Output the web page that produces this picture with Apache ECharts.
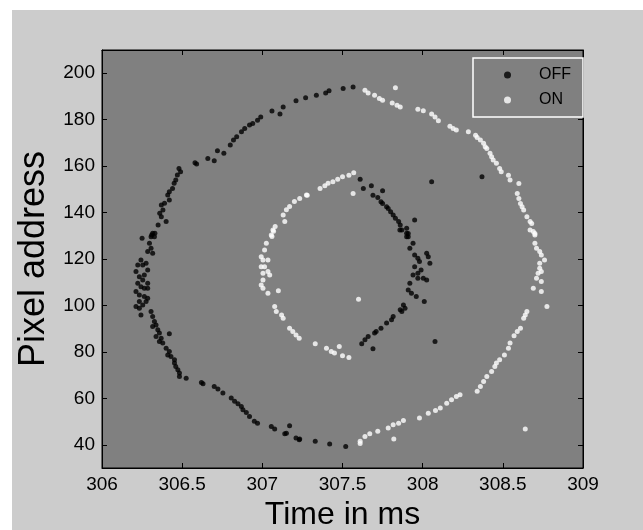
<!DOCTYPE html>
<html>
<head>
<meta charset="utf-8">
<script src="https://cdn.jsdelivr.net/npm/echarts@6/dist/echarts.min.js"></script>
<style>
  html, body { margin: 0; padding: 0; background: #ffffff; }
  #chart { position: absolute; left: 12px; top: 10px; width: 631px; height: 520px; background: #cccccc; }
</style>
</head>
<body>
<div id="chart"></div>
<script>
// Event data from the retina sensor: [time in ms, pixel address]
const offOuter = [
  [307.566,194.1],[307.504,193.4],[307.416,192.4],[307.395,191.5],[307.337,190.5],[307.27,189.4],
  [307.21,188.1],[307.13,185.5],[307.11,182.4],[307.06,183.7],[306.99,181.2],[306.97,179.8],
  [306.94,178.4],[306.92,177.7],[306.89,176.2],[306.87,174.8],[306.84,172.6],[306.82,171.2],
  [306.80,169.1],[306.76,165.5],[306.72,166.6],[306.70,162.3],[306.66,163.3],[306.59,160.9],
  [306.58,161.4],[306.48,159.0],[306.49,157.6],[306.47,156.2],[306.46,154.0],[306.45,152.6],
  [306.44,150.4],[306.42,149.0],[306.41,147.6],[306.42,145.4],[306.39,144.0],[306.37,143.2],
  [306.38,141.1],[306.36,139.7],[306.37,138.2],[306.40,136.1],[306.35,134.6],[306.33,131.1],
  [306.31,130.3],[306.25,128.9],
  [306.316,131.1],[306.306,129.6],[306.327,129.6],[306.296,126.8],[306.306,124.6],[306.285,123.2],
  [306.316,122.5],[306.243,119.6],[306.223,117.4],[306.254,117.4],[306.275,118.2],[306.285,115.3],
  [306.212,114.6],[306.233,112.4],[306.264,113.1],[306.254,111.0],[306.285,109.6],[306.223,109.6],
  [306.243,108.1],[306.264,107.4],[306.285,107.4],[306.212,106.0],[306.233,104.5],[306.264,103.8],
  [306.285,103.1],[306.233,101.7],[306.275,101.7],[306.212,99.5],[306.233,98.8],[306.254,100.2],
  [306.243,95.9],[306.306,97.4],[306.316,95.2],[306.327,93.1],[306.316,90.9],[306.337,91.6],
  [306.348,89.5],[306.358,88.1],[306.337,86.6],[306.369,85.9],[306.42,87.8],[306.379,83.8],
  [306.358,84.5],[306.40,81.6],[306.42,80.2],[306.41,78.7],[306.43,78.0],[306.452,76.6],
  [306.452,75.2],[306.46,73.7],[306.473,72.3],[306.483,70.9],[306.483,69.4],[306.525,68.7],
  [306.62,66.8],[306.63,66.3],[306.70,65.1],[306.723,64.0],[306.754,62.3],[306.806,60.1],
  [306.827,58.7],[306.848,57.7],[306.869,56.5],[306.879,55.1],[306.90,53.9],[306.92,52.2],
  [306.95,50.1],[306.97,49.3],[307.056,47.9],[307.077,46.8],[307.17,48.2],[307.15,45.0],
  [307.14,44.8],[307.21,42.9],[307.23,42.2],
  [307.233,42.5],[307.33,41.5],[307.42,40.3],[307.52,39.3]
];
const offInner = [
  [307.61,154.3],[307.63,150.4],[307.68,151.5],[307.69,147.5],[307.72,146.5],[307.75,149.4],
  [307.74,144.7],[307.75,143.9],[307.775,142.5],[307.785,141.8],[307.80,140.4],[307.816,138.9],
  [307.83,137.5],[307.85,136.1],[307.86,134.6],[307.87,132.5],[307.90,133.2],[307.91,131.0],
  [307.90,129.6],[307.95,136.8],
  [307.858,132.5],[307.90,131.1],[307.91,129.6],[307.94,126.8],[307.92,124.6],[307.95,121.7],
  [307.97,120.3],[308.025,122.5],[308.035,121.0],[308.045,118.2],[307.98,118.9],[307.95,116.7],
  [307.99,115.3],[307.97,113.9],[307.94,113.1],[308.004,111.7],[308.025,111.0],[307.97,111.7],
  [307.92,109.6],[307.91,106.7],[307.93,105.3],[307.96,103.8],[308.01,101.7],[307.88,100.2],
  [307.89,98.8],[307.87,97.4],[307.86,98.1],[307.816,95.2],[307.806,93.8],[307.775,92.4],
  [307.74,90.2],[307.71,88.8],[307.70,88.1],[307.66,86.6],[307.64,85.2],[307.62,83.5],
  [307.69,81.3]
];
const offStray = [[308.056,153.3],[308.37,155.4],[308.077,84.5]];

const onOuter = [
  [307.64,192.7],[307.66,191.5],[307.70,190.5],[307.73,189.1],[307.75,188.4],[307.81,187.2],
  [307.84,186.2],[307.86,185.5],[307.97,184.5],[308.004,183.8],[308.056,182.4],[308.077,181.2],
  [308.098,179.5],[308.17,177.2],[308.19,176.2],[308.21,175.5],[308.285,174.8],[308.33,173.3],
  [308.34,172.3],[308.36,171.2],[308.38,169.8],[308.39,168.3],[308.40,167.6],[308.42,165.5],
  [308.43,164.0],[308.44,162.6],[308.46,161.2],[308.48,159.0],[308.49,157.6],[308.535,156.1],
  [308.545,154.0],[308.60,152.5],[308.59,148.2],[308.60,146.1],[308.61,143.9],[308.62,142.5],
  [308.63,141.1],[308.65,138.2],[308.67,136.1],[308.68,135.3],[308.67,132.5],[308.70,131.0],
  [308.69,131.8],[308.70,130.3],[308.70,126.8],[308.71,124.6],[308.73,123.2],[308.74,121.7],
  [308.76,119.6],[308.73,118.2],[308.73,116.0],[308.74,114.6],[308.72,113.9],[308.71,111.7],
  [308.74,110.3],[308.69,107.4],[308.74,106.0],[308.775,99.5],[308.65,97.4],[308.64,95.9],
  [308.63,94.5],[308.61,90.2],[308.59,88.8],[308.57,86.9],[308.545,83.8],[308.535,81.6],
  [308.51,78.7],[308.48,76.6],[308.46,75.2],[308.45,73.7],[308.43,71.6],[308.40,69.4],
  [308.38,67.3],[308.36,65.1],[308.34,63.0],[308.233,61.5],[308.21,60.8],[308.18,59.4],
  [308.15,57.9],[308.11,55.8],[308.08,54.8],[308.035,53.6],[307.98,51.5],[307.88,50.5],
  [307.85,49.3],[307.816,48.6],[307.785,47.2],[307.72,45.8],[307.67,44.8],[307.64,43.6],
  [307.61,41.5],[307.61,40.5]
];
const onInner = [
  [307.233,146.1],[307.28,147.5],[307.36,150.4],[307.39,151.5],[307.41,152.6],[307.44,153.3],
  [307.47,154.3],[307.50,155.4],[307.54,156.1],[307.57,157.1],
  [307.275,147.6],[307.20,144.8],[307.17,142.6],[307.15,141.2],[307.13,139.0],[307.14,136.2],
  [307.08,134.0],[307.07,131.9],[307.06,129.7],
  [307.066,132.5],[307.056,130.3],[307.025,126.8],[307.014,123.9],[306.993,121.0],[307.004,119.6],
  [307.035,119.6],[307.014,116.7],[306.993,116.7],[307.035,114.6],[307.004,113.9],[307.046,113.1],
  [307.004,111.0],[306.993,108.8],[307.004,107.4],[307.035,105.3],[307.10,106.3],[307.077,99.5],
  [307.087,97.4],[307.12,95.9],[307.13,94.5],[307.17,90.2],[307.19,88.8],[307.21,87.3],
  [307.23,85.9],[307.33,83.5],[307.40,81.6],[307.43,80.2],[307.45,79.5],[307.48,82.3],
  [307.50,78.3],[307.54,77.6]
];
const onStray = [[307.83,193.7],[307.566,148.2],[307.60,102.7],[307.82,42.5],[308.64,46.8]];

const yTicks = [40, 60, 80, 100, 120, 140, 160, 180, 200];
const seriesNames = ['OFF', 'ON'];

const FONT = '"Liberation Sans", Arial, Helvetica, sans-serif';

const chart = echarts.init(document.getElementById('chart'), null, { renderer: 'canvas' });

const axisLine = { show: true, lineStyle: { color: '#000', width: 1 } };
const tick = { show: true, inside: true, length: 5, lineStyle: { color: '#000', width: 1 } };

chart.setOption({
  backgroundColor: '#cccccc',
  animation: false,
  grid: {
    left: 90, top: 40, width: 481, height: 418,
    outerBoundsMode: 'none', containLabel: false,
    show: true, backgroundColor: '#808080', borderColor: '#000', borderWidth: 1
  },
  legend: {
    data: seriesNames,
    orient: 'vertical',
    left: 461, top: 48,
    backgroundColor: '#808080',
    borderColor: '#ffffff', borderWidth: 1.5,
    padding: [8, 12, 8, 31],
    itemGap: 7, itemWidth: 7, itemHeight: 7,
    icon: 'circle',
    textStyle: { color: '#000', fontFamily: FONT, fontSize: 16, lineHeight: 18, padding: [0, 0, 0, 23] }
  },
  xAxis: [{
    type: 'value', min: 306, max: 309, interval: 0.5, position: 'bottom',
    name: 'Time in ms', nameLocation: 'middle', nameGap: 19,
    nameTextStyle: { color: '#000', fontFamily: FONT, fontSize: 32 },
    axisLine: axisLine, axisTick: tick, splitLine: { show: false },
    axisLabel: { color: '#000', fontFamily: FONT, fontSize: 19, margin: 7 }
  }, {
    type: 'value', min: 306, max: 309, interval: 0.5, position: 'top',
    axisLine: axisLine, axisTick: tick, splitLine: { show: false },
    axisLabel: { show: false }
  }],
  yAxis: [{
    type: 'value', min: 30, max: 210, position: 'left',
    name: 'Pixel address', nameLocation: 'middle', nameGap: 45,
    nameTextStyle: { color: '#000', fontFamily: FONT, fontSize: 36 },
    axisLine: axisLine, splitLine: { show: false },
    axisTick: Object.assign({}, tick, { customValues: yTicks }),
    axisLabel: { color: '#000', fontFamily: FONT, fontSize: 19, margin: 7, customValues: yTicks }
  }, {
    type: 'value', min: 30, max: 210, position: 'right',
    axisLine: axisLine, splitLine: { show: false },
    axisTick: Object.assign({}, tick, { customValues: yTicks }),
    axisLabel: { show: false, customValues: yTicks }
  }],
  series: [{
    name: 'OFF', type: 'scatter', symbol: 'circle', symbolSize: 5,
    itemStyle: { color: '#000000' },
    data: offOuter.concat(offInner, offStray)
  }, {
    name: 'ON', type: 'scatter', symbol: 'circle', symbolSize: 5,
    itemStyle: { color: '#ffffff' },
    data: onOuter.concat(onInner, onStray)
  }]
});
</script>
</body>
</html>
